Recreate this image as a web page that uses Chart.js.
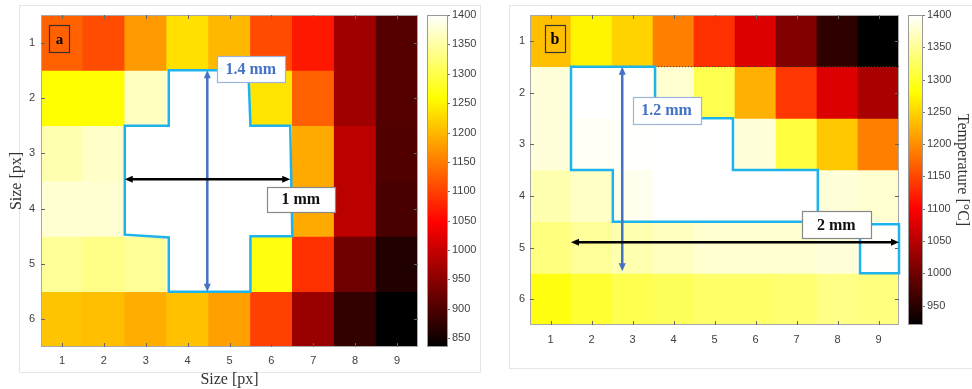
<!DOCTYPE html>
<html>
<head>
<meta charset="utf-8">
<script src="https://cdn.jsdelivr.net/npm/chart.js@4"></script>
<style>
  body { margin: 0; background: #fff; }
  .panel { position: absolute; top: 0; height: 389px; }
  .frame { position: absolute; border: 1px solid #e6e6e6; }
</style>
</head>
<body>
<div class="frame" style="left:19px;top:5px;width:460px;height:366px"></div>
<div class="frame" style="left:509px;top:5px;width:480px;height:362px"></div>
<div class="panel" style="left:0;width:490px"><canvas id="heat-a"></canvas></div>
<div class="panel" style="left:490px;width:482px"><canvas id="heat-b"></canvas></div>

<script>
// grid labels
var cols = ['1', '2', '3', '4', '5', '6', '7', '8', '9'];
var rows = [1, 2, 3, 4, 5, 6];

// temperatures [°C], one array per row (row 1 at the top)
var tempA = [
    [1127, 1110, 1174, 1233, 1200, 1108, 1067, 968, 906],
    [1259, 1260, 1366, 1400, 1400, 1237, 1127, 968, 906],
    [1356, 1369, 1400, 1400, 1400, 1400, 1188, 990, 902],
    [1375, 1375, 1400, 1400, 1400, 1400, 1188, 990, 895],
    [1343, 1334, 1343, 1400, 1400, 1267, 1087, 928, 862],
    [1210, 1205, 1191, 1207, 1180, 1100, 962, 877, 835],
];
var tempB = [
    [1235, 1273, 1249, 1190, 1134, 1076, 1010, 953, 920],
    [1382, 1400, 1400, 1378, 1317, 1224, 1139, 1076, 1040],
    [1382, 1395, 1398, 1400, 1400, 1382, 1310, 1241, 1190],
    [1363, 1373, 1392, 1400, 1400, 1400, 1400, 1382, 1378],
    [1340, 1352, 1363, 1370, 1378, 1378, 1378, 1382, 1398],
    [1287, 1303, 1317, 1322, 1330, 1330, 1333, 1343, 1340],
];

// colour bar ranges and ticks
var rangeA = [835, 1400];
var rangeB = [920, 1400];
var cbTicksA = [850, 900, 950, 1000, 1050, 1100, 1150, 1200, 1250, 1300, 1350, 1400];
var cbTicksB = [950, 1000, 1050, 1100, 1150, 1200, 1250, 1300, 1350, 1400];

// annotations (grid coordinates: column, row)
var outlinesA = [
    [[3.55, 1.5], [5.45, 1.5], [5.5, 2.5], [6.45, 2.5], [6.5, 4.5], [5.5, 4.5], [5.5, 5.5], [3.55, 5.5], [3.55, 4.52], [2.5, 4.47], [2.5, 2.5], [3.55, 2.5]],
];
var outlinesB = [
    [[1.5, 1.5], [3.55, 1.5], [3.55, 2.5], [5.45, 2.5], [5.45, 3.5], [7.52, 3.5], [7.52, 4.5], [2.52, 4.5], [2.52, 3.5], [1.5, 3.5]],
    [[8.55, 4.55], [9.5, 4.55], [9.5, 5.5], [8.55, 5.5]],
];
var arrowsA = [
    { from: [4.47, 1.5], to: [4.47, 5.5], color: '#4472C4' },
    { from: [2.5, 3.47], to: [6.45, 3.47], color: '#000' },
];
var arrowsB = [
    { from: [2.75, 1.5], to: [2.75, 5.46], color: '#4472C4' },
    { from: [1.5, 4.9], to: [9.5, 4.9], color: '#000' },
];
var labelsA = [
    { text: 'a', at: [0.94, 0.93], w: 20, h: 27, color: '#000', border: '#333', fill: null, size: 15 },
    { text: '1.4 mm', at: [5.51, 1.47], w: 68, h: 26, color: '#4472C4', border: '#9DB3D9', fill: '#fff', size: 16 },
    { text: '1 mm', at: [6.70, 3.83], w: 68, h: 25, color: '#111', border: '#888', fill: '#fff', size: 16 },
];
var labelsB = [
    { text: 'b', at: [1.11, 0.96], w: 20, h: 27, color: '#000', border: '#333', fill: null, size: 16 },
    { text: '1.2 mm', at: [3.83, 2.34], w: 68, h: 27, color: '#4472C4', border: '#9DB3D9', fill: '#fff', size: 16 },
    { text: '2 mm', at: [7.97, 4.56], w: 69, h: 27, color: '#111', border: '#888', fill: '#fff', size: 16 },
];

// matlab "hot" colormap
function hot(v, lo, hi) {
    var t = Math.min(1, Math.max(0, (v - lo) / (hi - lo)));
    var r = Math.min(1, t / 0.375);
    var g = Math.min(1, Math.max(0, (t - 0.375) / 0.375));
    var b = Math.max(0, (t - 0.75) / 0.25);
    return `rgb(${Math.round(r * 255)}, ${Math.round(g * 255)}, ${Math.round(b * 255)})`;
}

function arrowHead(ctx, x, y, ang) {
    ctx.save();
    ctx.translate(x, y);
    ctx.rotate(ang);
    ctx.beginPath();
    ctx.moveTo(0, 0);
    ctx.lineTo(-8, 3.5);
    ctx.lineTo(-8, -3.5);
    ctx.closePath();
    ctx.fill();
    ctx.restore();
}

var heatNotes = {
    id: 'heatNotes',
    afterDatasetsDraw(chart, args, o) {
        const { ctx, chartArea: a } = chart;
        const { x, y, cb } = chart.scales;
        const px = v => x.getPixelForValue(v - 1);
        const py = v => y.getPixelForValue(v);
        ctx.save();

        // axes box + inward ticks
        ctx.strokeStyle = '#a8a8a8';
        ctx.lineWidth = 1;
        ctx.strokeRect(a.left + 0.5, a.top + 0.5, a.width - 1, a.height - 1);
        ctx.strokeStyle = '#666';
        ctx.beginPath();
        x.ticks.forEach((t, i) => {
            const p = Math.round(x.getPixelForTick(i)) + 0.5;
            ctx.moveTo(p, a.top); ctx.lineTo(p, a.top + 4);
            ctx.moveTo(p, a.bottom); ctx.lineTo(p, a.bottom - 4);
        });
        y.ticks.forEach((t, i) => {
            const p = Math.round(y.getPixelForTick(i)) + 0.5;
            ctx.moveTo(a.left, p); ctx.lineTo(a.left + 4, p);
            ctx.moveTo(a.right, p); ctx.lineTo(a.right - 4, p);
        });
        ctx.stroke();

        // colour bar
        const top = cb.getPixelForValue(cb.max), bot = cb.getPixelForValue(cb.min);
        const bx = a.right + o.barGap;
        const grad = ctx.createLinearGradient(0, bot, 0, top);
        grad.addColorStop(0, '#000');
        grad.addColorStop(0.375, '#f00');
        grad.addColorStop(0.75, '#ff0');
        grad.addColorStop(1, '#fff');
        ctx.fillStyle = grad;
        ctx.fillRect(bx, top, o.barWidth, bot - top);
        ctx.strokeStyle = '#999';
        ctx.strokeRect(bx + 0.5, top + 0.5, o.barWidth - 1, bot - top - 1);
        ctx.strokeStyle = '#777';
        ctx.beginPath();
        cb.ticks.forEach((t, i) => {
            const p = Math.round(cb.getPixelForTick(i)) + 0.5;
            ctx.moveTo(bx + o.barWidth, p); ctx.lineTo(bx + o.barWidth + 2, p);
        });
        ctx.stroke();

        // dotted row edge
        if (o.dotted) {
            ctx.strokeStyle = '#444';
            ctx.setLineDash([1, 2]);
            ctx.beginPath();
            ctx.moveTo(px(o.dotted[0][0]), py(o.dotted[0][1]));
            ctx.lineTo(px(o.dotted[1][0]), py(o.dotted[1][1]));
            ctx.stroke();
            ctx.setLineDash([]);
        }

        // hot-zone outlines
        ctx.strokeStyle = '#1DB4EE';
        ctx.lineWidth = 2.5;
        o.outlines.forEach(poly => {
            ctx.beginPath();
            poly.forEach(([u, v], k) => k ? ctx.lineTo(px(u), py(v)) : ctx.moveTo(px(u), py(v)));
            ctx.closePath();
            ctx.stroke();
        });

        // size arrows
        o.arrows.forEach(ar => {
            const x1 = px(ar.from[0]), y1 = py(ar.from[1]);
            const x2 = px(ar.to[0]), y2 = py(ar.to[1]);
            const ang = Math.atan2(y2 - y1, x2 - x1);
            ctx.strokeStyle = ar.color;
            ctx.fillStyle = ar.color;
            ctx.lineWidth = 2.5;
            ctx.beginPath();
            ctx.moveTo(x1 + 6 * Math.cos(ang), y1 + 6 * Math.sin(ang));
            ctx.lineTo(x2 - 6 * Math.cos(ang), y2 - 6 * Math.sin(ang));
            ctx.stroke();
            arrowHead(ctx, x2, y2, ang);
            arrowHead(ctx, x1, y1, ang + Math.PI);
        });

        // text boxes
        ctx.textAlign = 'center';
        ctx.textBaseline = 'middle';
        o.labels.forEach(l => {
            const cx = px(l.at[0]), cy = py(l.at[1]);
            const bx0 = Math.round(cx - l.w / 2) + 0.5, by0 = Math.round(cy - l.h / 2) + 0.5;
            if (l.fill) {
                ctx.fillStyle = l.fill;
                ctx.fillRect(bx0, by0, l.w, l.h);
            }
            ctx.strokeStyle = l.border;
            ctx.lineWidth = 1.2;
            ctx.strokeRect(bx0, by0, l.w, l.h);
            ctx.fillStyle = l.color;
            ctx.font = `bold ${l.size}px "Liberation Serif"`;
            ctx.fillText(l.text, cx, cy + 1);
        });
        ctx.restore();
    }
};

function heatmap(canvasId, temps, range, cbTicks, box) {
    var data = {
        labels: cols,
        datasets: rows.map((r, i) => ({
            label: 'row ' + r,
            data: temps[i].map(() => [r - 0.5, r + 0.5]),
            backgroundColor: temps[i].map(v => hot(v, range[0], range[1])),
            borderWidth: 0,
            barPercentage: 1,
            categoryPercentage: 1,
            grouped: false,
        }))
    };
    var tickFont = { family: '"Liberation Sans", Arial', size: 11 };
    var titleFont = { family: '"Liberation Serif", "Times New Roman"', size: 16, lineHeight: 1.2 };
    var plain = v => String(v);

    var layout = {
        type: 'bar',
        data: data,
        options: {
            responsive: true,
            maintainAspectRatio: false,
            animation: false,
            layout: { padding: { top: 15, left: 0, right: 0, bottom: 0 } },
            plugins: {
                legend: { display: false },
                tooltip: { enabled: false },
                heatNotes: box.notes,
            },
            scales: {
                x: {
                    type: 'category',
                    offset: true,
                    grid: { display: false, drawTicks: false },
                    border: { display: false },
                    ticks: { color: '#404040', font: tickFont, padding: box.xPad },
                    title: { display: !!box.xTitle, text: box.xTitle, color: '#333', font: titleFont, padding: 0 },
                    afterFit: s => { s.height = box.xHeight; s.paddingLeft = 0; s.paddingRight = 0; }
                },
                y: {
                    type: 'linear',
                    min: 0.5,
                    max: 6.5,
                    reverse: true,
                    afterBuildTicks: s => { s.ticks = rows.map(v => ({ value: v })); },
                    grid: { display: false, drawTicks: false },
                    border: { display: false },
                    ticks: { color: '#404040', font: tickFont, padding: box.yPad, callback: plain },
                    title: { display: !!box.yTitle, text: box.yTitle, color: '#333', font: titleFont, padding: { top: 7, bottom: 0 } },
                    afterFit: s => { s.width = box.yWidth; s.paddingTop = 0; s.paddingBottom = 0; }
                },
                cb: {
                    type: 'linear',
                    position: 'right',
                    min: range[0],
                    max: range[1],
                    afterBuildTicks: s => { s.ticks = cbTicks.map(v => ({ value: v })); },
                    grid: { display: false, drawTicks: false },
                    border: { display: false },
                    ticks: { color: '#404040', font: tickFont, padding: box.cbPad, callback: plain },
                    title: { display: !!box.cbTitle, text: box.cbTitle, color: '#333', font: titleFont, padding: 0 },
                    afterFit: s => { s.width = box.cbWidth; s.paddingTop = 0; s.paddingBottom = 0; }
                },
            },
        },
        plugins: [heatNotes]
    };
    return new Chart(document.getElementById(canvasId), layout);
}

heatmap('heat-a', tempA, rangeA, cbTicksA, {
    xTitle: 'Size [px]', yTitle: 'Size [px]', cbTitle: '',
    xHeight: 42, yWidth: 41, cbWidth: 72, xPad: 7, yPad: 6, cbPad: 34,
    notes: { barGap: 9, barWidth: 21, outlines: outlinesA, arrows: arrowsA, labels: labelsA, dotted: null }
});
heatmap('heat-b', tempB, rangeB, cbTicksB, {
    xTitle: '', yTitle: '', cbTitle: 'Temperature [°C]',
    xHeight: 64, yWidth: 40, cbWidth: 73, xPad: 8, yPad: 5, cbPad: 28,
    notes: { barGap: 9, barWidth: 15, outlines: outlinesB, arrows: arrowsB, labels: labelsB, dotted: [[3.55, 1.5], [9.5, 1.5]] }
});
</script>
</body>
</html>
